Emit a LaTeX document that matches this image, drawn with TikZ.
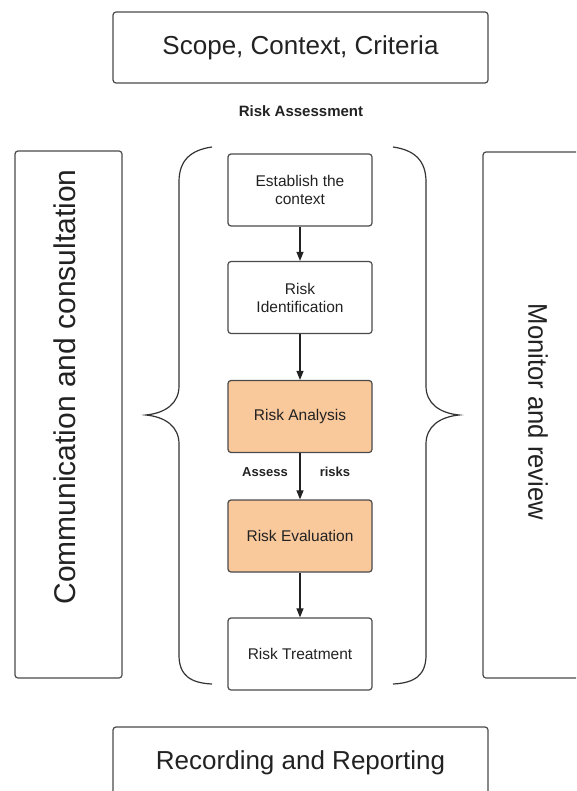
\documentclass[tikz,border=0pt]{standalone}
\usepackage{fontspec}
\setmainfont{Liberation Sans}
\usetikzlibrary{arrows.meta}
\definecolor{boxline}{HTML}{4A4A4A}
\definecolor{orangefill}{HTML}{F9C89B}
\definecolor{ink}{HTML}{222222}
\begin{document}
\begin{tikzpicture}[x=1pt,y=-1pt,
  frame/.style={draw=boxline, line width=1.2pt, rounded corners=3pt, inner sep=0pt},
  stepbox/.style={frame, minimum width=144pt, minimum height=72pt, align=center,
    font=\fontsize{15.5}{18}\selectfont, text=ink},
  hot/.style={stepbox, fill=orangefill},
  bigtext/.style={font=\fontsize{26}{30}\selectfont, text=ink},
  sidetext/.style={text=ink, inner sep=0pt},
  boldlabel/.style={font=\bfseries\fontsize{13}{15}\selectfont, text=ink},
  arr/.style={-{Triangle[length=9pt,width=7pt]}, line width=1.1pt, draw=ink},
  bracestyle/.style={draw=black!80, line width=1.2pt},
]
\useasboundingbox (0,0) rectangle (576,791);
\clip (0,0) rectangle (576,791);

% top and bottom boxes
\node[frame, bigtext, minimum width=375pt, minimum height=71pt] (scope) at (300.5,47.5) {Scope, Context, Criteria};
\node[frame, bigtext, minimum width=375pt, minimum height=71pt] (record) at (300.5,762.5) {Recording and Reporting};

\node[font=\bfseries\fontsize{15}{17}\selectfont, text=ink] (ra) at (301,111) {Risk Assessment};

% side boxes
\node[frame, minimum width=107pt, minimum height=527pt] (comm) at (68.5,414.5) {};
\node[sidetext, rotate=90, font=\fontsize{30}{32}\selectfont] (commtext) at (65,387) {Communication and consultation};
\node[frame, minimum width=107pt, minimum height=526pt] (monitor) at (536.5,415) {};
\node[sidetext, rotate=-90, font=\fontsize{27}{30}\selectfont] (montext) at (538,412) {\scalebox{0.95}[1]{Monitor and review}};

% process steps
\node[stepbox] (est) at (300,190) {Establish the\\context};
\node[stepbox] (ident) at (300,297.5) {Risk\\Identification};
\node[hot] (anal) at (300,416.5) {Risk Analysis};
\node[hot] (eval) at (300,536) {Risk Evaluation};
\node[stepbox] (treat) at (300,654) {Risk Treatment};

\draw[arr] (est) -- (ident);
\draw[arr] (ident) -- (anal);
\draw[arr] (anal) -- (eval);
\draw[arr] (eval) -- (treat);

\node[boldlabel] (assess) at (265,472) {Assess};
\node[boldlabel] (risks) at (335,472) {risks};

% braces
\draw[bracestyle] (212,147) .. controls (191,150) and (179,160) .. (179,182)
  -- (179,386) .. controls (179,403) and (166,413) .. (146,415)
  .. controls (166,417) and (179,427) .. (179,444)
  -- (179,655) .. controls (179,675) and (190,683) .. (212,684);
\draw[bracestyle] (393,147) .. controls (414,150) and (426,160) .. (426,182)
  -- (426,386) .. controls (426,403) and (439,413) .. (459,415)
  .. controls (439,417) and (426,427) .. (426,444)
  -- (426,655) .. controls (426,675) and (415,683) .. (393,684);
\end{tikzpicture}
\end{document}
